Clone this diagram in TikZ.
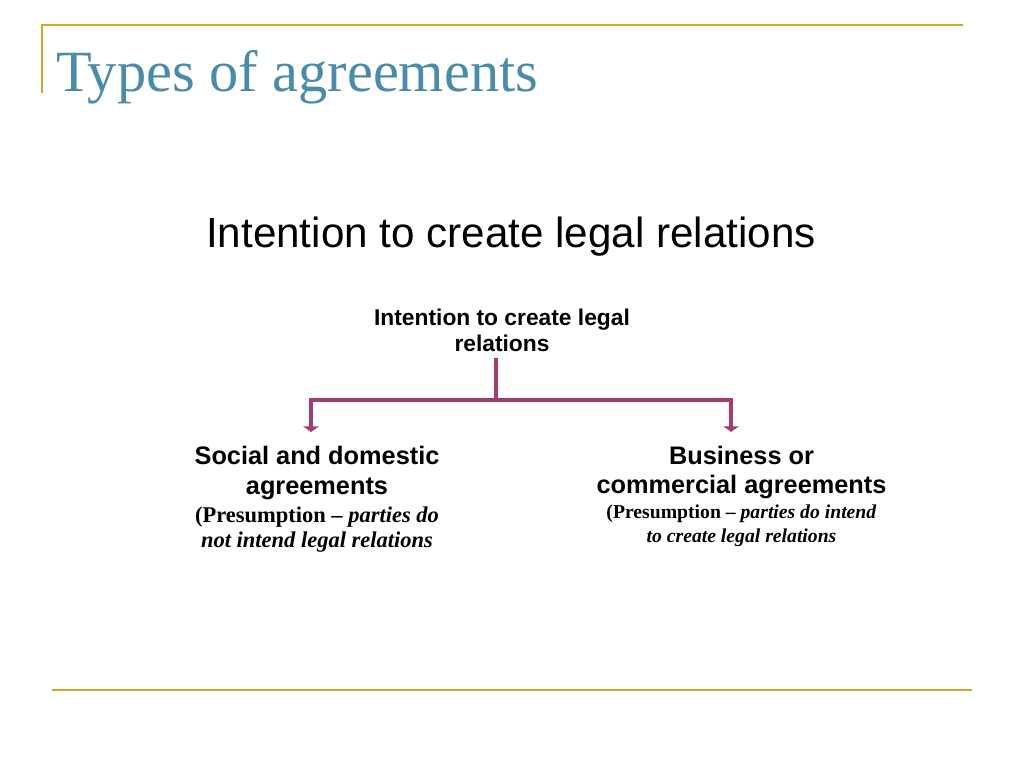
\documentclass[tikz,border=0pt]{standalone}
\usepackage{fontspec}
\setmainfont{Liberation Sans}
\newfontfamily\timesfont[Ligatures=TeX]{Liberation Serif}
\newfontfamily\titlefont{Liberation Serif}
\usepackage{tikz}
\usetikzlibrary{arrows.meta}
\definecolor{rulegold}{HTML}{D4A52C}
\definecolor{titleblue}{HTML}{4A8BAA}
\definecolor{branchpink}{HTML}{A83C72}
\tikzset{
	rule/.style={line width=2pt, color=rulegold},
	branch/.style={line width=2.8pt, color=branchpink},
	branchtip/.style={branch, -{Triangle[width=11pt,length=4pt]}},
	head/.style={inner sep=0pt, align=center, font=\fontsize{18}{21}\selectfont\bfseries},
	note/.style={inner sep=0pt, align=center}
}

\begin{document}
\begin{tikzpicture}[x=0.025cm, y=-0.025cm]
		%%%%% START %%%%%
		\useasboundingbox[fill=white] (0, 0) rectangle (1024, 768);
		
		\draw[rule] (42, 93) -- (42, 25) -- (963, 25);
		\draw[rule] (52, 690) -- (972, 690);
		
		\node[anchor=base west, inner sep=0pt, color=titleblue, font=\titlefont\fontsize{41.5}{44}\selectfont] (title) at (56, 92) {Types of agreements};
		
		\node[anchor=base, inner sep=0pt, font=\fontsize{30}{34}\selectfont] (sub) at (511, 247) {Intention to create legal relations};
		
		\node[anchor=north, inner sep=0pt, align=center, font=\fontsize{16.2}{18.2}\selectfont\bfseries] (root) at (502, 309) {Intention to create legal\\relations};
		
		\node[head, anchor=north] (soc) at (317, 446) {Social and domestic\\agreements};
		\node[note, anchor=north, font=\timesfont\bfseries\fontsize{16}{17.8}\selectfont] (socnote) at (317, 506.5) {(Presumption – \textit{parties do}\\\textit{not intend legal relations}};
		
		\node[head, anchor=north] (bus) at (741.5, 445.5) {Business or\\commercial agreements};
		\node[note, anchor=north, font=\timesfont\bfseries\fontsize{14}{16.8}\selectfont] (busnote) at (741.5, 504.5) {(Presumption – \textit{parties do intend}\\\textit{to create legal relations}};
		
		\coordinate (split) at (496, 400);
		\draw[branch, shorten <=0.15cm] (split |- root.south) -- (split);
		\draw[branchtip] (split) -| ([xshift=-0.15cm, yshift=0.35cm]soc.north);
		\draw[branchtip] (split) -| ([xshift=-0.26cm, yshift=0.34cm]bus.north);
		
		%%%%% END %%%%%
	\end{tikzpicture}
\end{document}
